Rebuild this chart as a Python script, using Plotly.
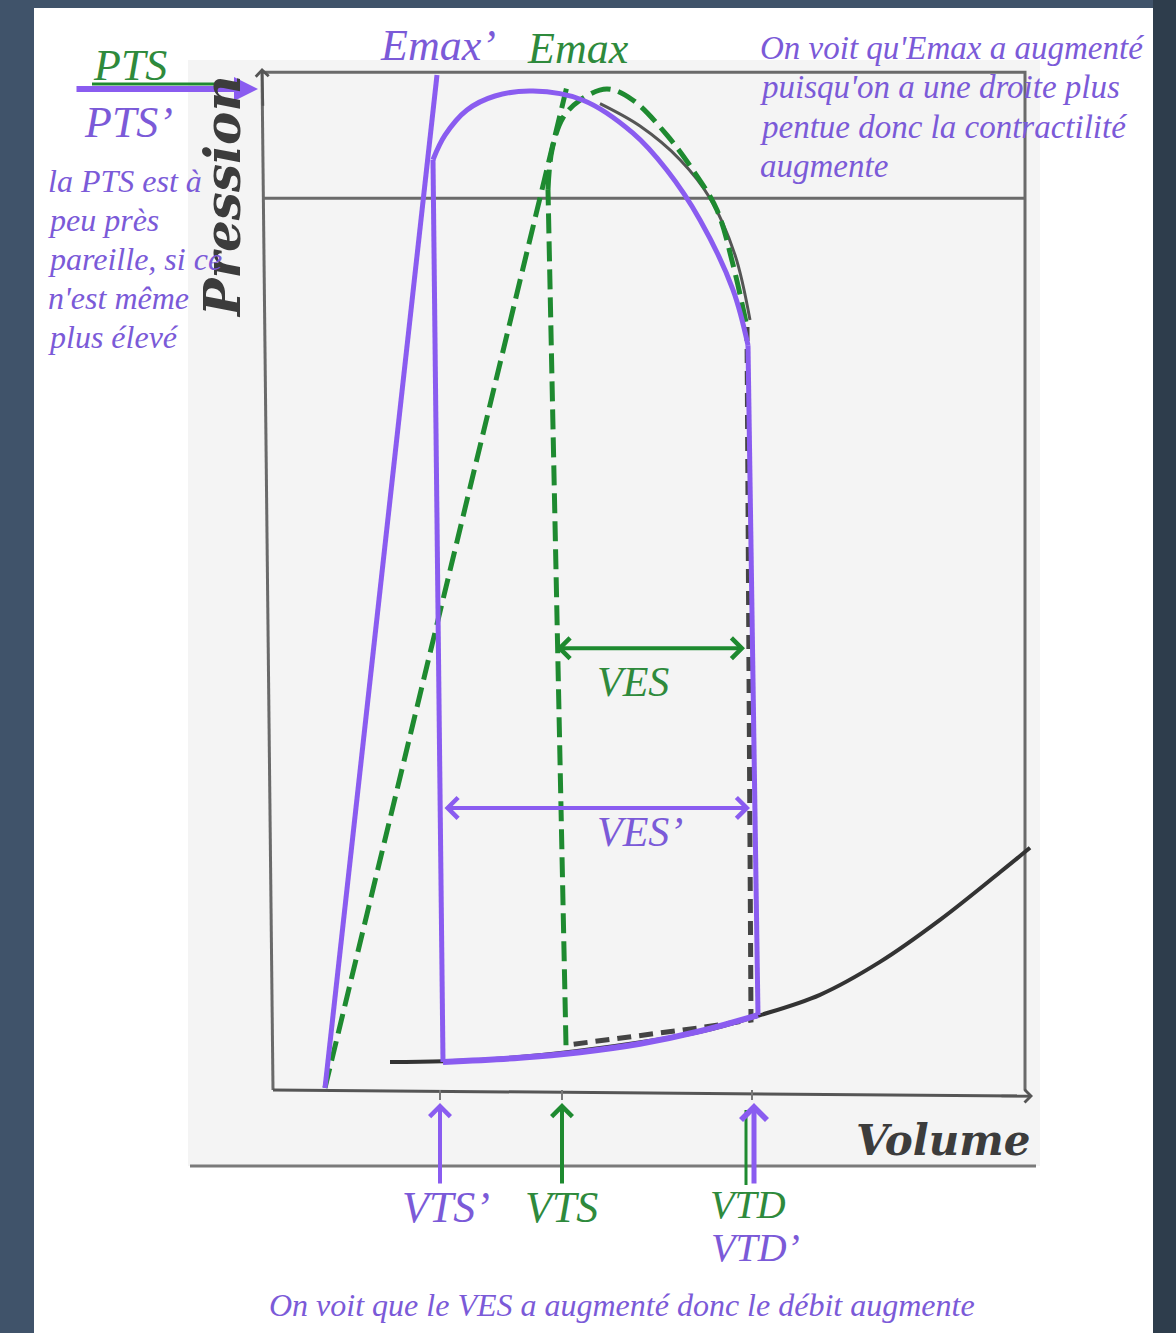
import plotly.graph_objects as go

W, H = 1176, 1333

# ---- data (volume units, pressure units) ----
# end-diastolic pressure-volume curve (black curve of the scan)
EDPVR_V = [23.6, 34.2, 49.6, 65.6, 85.6, 97.2, 109.6, 121.6, 133.6, 145.6, 151.6]
EDPVR_P = [4.0, 4.1, 4.7, 6.0, 8.3, 10.6, 13.6, 18.3, 24.3, 31.1, 34.6]

# loop with Emax' (purple, solid): isovolumic relaxation, ejection arc, isovolumic contraction, filling
LOOP2_IVR_V = [34.2, 32.2]
LOOP2_IVR_P = [4.0, 132.9]
LOOP2_ARC_V = [32.2, 34.6, 39.0, 44.6, 52.2, 62.2, 72.2, 79.0, 85.6, 92.2, 95.2]
LOOP2_ARC_P = [132.9, 136.4, 140.0, 142.0, 142.7, 141.4, 136.7, 131.4, 124.3, 114.3, 106.4]
LOOP2_IVC_V = [95.2, 97.2]
LOOP2_IVC_P = [106.4, 10.7]
LOOP2_FILL_V = [97.2, 85.6, 73.6, 61.6, 49.6, 34.2]
LOOP2_FILL_P = [10.7, 8.4, 6.6, 5.4, 4.6, 4.0]

# loop with Emax (green, dashed)
LOOP1_IVR_V = [58.8, 55.2]
LOOP1_IVR_P = [6.4, 128.6]
LOOP1_ARC_V = [55.2, 56.0, 58.2, 61.6, 67.0, 72.2, 79.0, 84.2, 89.0, 92.2, 95.0]
LOOP1_ARC_P = [128.6, 134.3, 138.9, 141.4, 143.0, 141.4, 136.4, 131.4, 125.7, 117.9, 109.0]
# filling / isovolumic part of the same loop (scan's black dashes)
LOOP1B_V = [95.0, 95.8, 85.6, 73.6, 65.6, 58.8]
LOOP1B_P = [109.0, 10.0, 8.9, 7.7, 7.0, 6.4]

# scan's original solid arc, visible beside the purple one
SCAN_ARC_V = [65.6, 73.6, 81.6, 87.6, 92.6, 95.6]
SCAN_ARC_P = [140.9, 137.7, 132.9, 127.4, 119.3, 110.0]

# end-systolic pressure-volume lines
ESPVR2_V = [10.6, 33.0]   # Emax'
ESPVR2_P = [0.3, 145.0]
ESPVR1_V = [10.6, 59.2]   # Emax
ESPVR1_P = [0.3, 144.0]

# scan frame
FRAME_VMAX = 150.6
FRAME_PMAX = 145.4
FRAME_PMID = 127.4

# marked quantities
PTS = 143.0
VTS2, VTS1, VTD = 33.6, 58.0, 96.0
VES1_P, VES1_V = 63.1, [56.6, 94.6]
VES2_P, VES2_V = 40.3, [34.2, 95.6]

PURPLE = "#8a5cf0"
PURPLE_TXT = "#7b5ad8"
GREEN = "#1e8a30"
GREEN_TXT = "#2e8a3c"


def X(px):
    return (px - 272) / 5.0


def Y(py):
    return (1090 - py) / 7.0


fig = go.Figure()


def line(xs, ys, color, width, dash="solid", spline=False):
    fig.add_trace(go.Scatter(x=xs, y=ys, mode="lines", hoverinfo="skip",
                             line=dict(color=color, width=width, dash=dash,
                                       shape="spline" if spline else "linear")))


# scan frame
line([X(262), X(273), None, X(262), FRAME_VMAX, FRAME_VMAX, None, X(262), FRAME_VMAX],
     [FRAME_PMAX, 0, None, FRAME_PMAX, FRAME_PMAX, 0, None, FRAME_PMID, FRAME_PMID],
     "#6a6a6a", 3)
line([X(273), X(1030)], [0, Y(1096)], "#555", 3)
# small ticks on the volume axis
line([VTS2, VTS2, None, VTS1, VTS1, None, VTD, VTD], [0, Y(1100), None, 0, Y(1100), None, 0, Y(1100)],
     "#777", 2)

# scan curves
line(EDPVR_V, EDPVR_P, "#333", 4, spline=True)
line(SCAN_ARC_V, SCAN_ARC_P, "#555", 3, spline=True)
line(LOOP1B_V, LOOP1B_P, "#444", 5, dash="14px,8px")

# Emax (green dashed)
line(ESPVR1_V, ESPVR1_P, GREEN, 5, dash="20px,8px")
line(LOOP1_IVR_V, LOOP1_IVR_P, GREEN, 5, dash="20px,8px")
line(LOOP1_ARC_V, LOOP1_ARC_P, GREEN, 5, dash="20px,8px", spline=True)

# Emax' (purple solid)
line(ESPVR2_V, ESPVR2_P, PURPLE, 5)
line(LOOP2_IVR_V, LOOP2_IVR_P, PURPLE, 5)
line(LOOP2_ARC_V, LOOP2_ARC_P, PURPLE, 5, spline=True)
line(LOOP2_IVC_V, LOOP2_IVC_P, PURPLE, 5)
line(LOOP2_FILL_V, LOOP2_FILL_P, PURPLE, 6, spline=True)

# green line next to the VTD arrow and above PTS arrow
line([VTD - 1.2, VTD - 1.2], [Y(1110), Y(1185)], GREEN, 3)
line([X(92), X(242)], [PTS + 0.7, PTS + 0.7], GREEN, 3)

ann = []


def arrow(x, y, ax, ay, color, width, head, both=False, size=1.0):
    d = dict(x=x, y=y, ax=ax, ay=ay, xref="x", yref="y", axref="x", ayref="y",
             text="", showarrow=True, arrowhead=head, arrowwidth=width,
             arrowsize=size, arrowcolor=color, standoff=0)
    if both:
        d.update(arrowside="end+start", startarrowhead=head, startarrowsize=size, startstandoff=0)
    ann.append(d)


# scan axis heads
arrow(X(262), FRAME_PMAX + 0.6, X(263), FRAME_PMAX - 5, "#555", 2.5, 4)
arrow(X(1033), Y(1096), X(1000), Y(1096), "#555", 2.5, 4)

arrow(X(258), PTS, X(75), PTS, PURPLE, 6, 2, size=0.8)
arrow(VES1_V[1], VES1_P, VES1_V[0], VES1_P, GREEN, 4, 4, both=True)
arrow(VES2_V[1], VES2_P, VES2_V[0], VES2_P, PURPLE, 4, 4, both=True)
arrow(VTS2, Y(1103), VTS2, Y(1185), PURPLE, 4, 4)
arrow(VTS1, Y(1103), VTS1, Y(1185), GREEN, 4, 4)
arrow(VTD + 0.4, Y(1103), VTD + 0.4, Y(1185), PURPLE, 5, 4)


def text(t, px, py, color, size=44, anchor="center", angle=0, family="Liberation Serif",
         weight="normal"):
    ann.append(dict(x=X(px), y=Y(py), xref="x", yref="y", text=t, showarrow=False,
                    xanchor=anchor, yanchor="middle", textangle=angle,
                    font=dict(family=family, size=size, color=color, style="italic",
                              weight=weight)))


text("Pression", 222, 197, "#3c3c3c", size=50, angle=-90, family="DejaVu Serif", weight="bold")
text("Volume", 943, 1140, "#3c3c3c", size=42, family="DejaVu Serif", weight="bold")

text("Emax’", 438, 45, PURPLE_TXT)
text("Emax", 578, 48, GREEN_TXT)
text("PTS", 130, 65, GREEN_TXT)
text("PTS’", 128, 122, PURPLE_TXT)
text("VES", 633, 682, GREEN_TXT, size=42)
text("VES’", 640, 832, PURPLE_TXT, size=42)
text("VTS’", 446, 1207, PURPLE_TXT)
text("VTS", 561, 1207, GREEN_TXT)
text("VTD", 748, 1204, GREEN_TXT, size=40)
text("VTD’", 755, 1247, PURPLE_TXT, size=40)

LEFT_NOTE = ["la PTS est à", "peu près", "pareille, si ce", "n'est même", "plus élevé"]
RIGHT_NOTE = ["On voit qu'Emax a augmenté", "puisqu'on a une droite plus",
              "pentue donc la contractilité", "augmente"]
BOTTOM_NOTE = "On voit que le VES a augmenté donc le débit augmente"

for i, t in enumerate(LEFT_NOTE):
    text(t, 46, 181 + 39 * i, PURPLE_TXT, size=32, anchor="left")
for i, t in enumerate(RIGHT_NOTE):
    text(t, 758, 48 + 39.3 * i, PURPLE_TXT, size=33, anchor="left")
text(BOTTOM_NOTE, 622, 1305, PURPLE_TXT, size=32)

shapes = [
    # white page
    dict(type="rect", xref="paper", yref="paper", x0=34 / W, x1=1153 / W, y0=0, y1=1 - 8 / H,
         fillcolor="white", line=dict(width=0), layer="below"),
    # right dark strip
    dict(type="rect", xref="paper", yref="paper", x0=1153 / W, x1=1, y0=0, y1=1,
         fillcolor="#2e3d4c", line=dict(width=0), layer="below"),
    # grey scan
    dict(type="rect", xref="paper", yref="paper", x0=188 / W, x1=1040 / W,
         y0=1 - 1166 / H, y1=1 - 60 / H,
         fillcolor="#f4f4f4", line=dict(width=0), layer="below"),
    # rule under the scan
    dict(type="line", xref="paper", yref="paper", x0=190 / W, x1=1036 / W,
         y0=1 - 1166 / H, y1=1 - 1166 / H, line=dict(color="#7a7a7a", width=3), layer="below"),
]

fig.update_layout(
    width=W, height=H,
    margin=dict(l=0, r=0, t=0, b=0),
    paper_bgcolor="#40536a",
    plot_bgcolor="rgba(0,0,0,0)",
    showlegend=False,
    xaxis=dict(range=[X(0), X(W)], visible=False, fixedrange=True),
    yaxis=dict(range=[Y(H), Y(0)], visible=False, fixedrange=True),
    annotations=ann,
    shapes=shapes,
)

fig.write_html("out.html", config={"displayModeBar": False},
               post_script="document.body.style.margin='0';")
